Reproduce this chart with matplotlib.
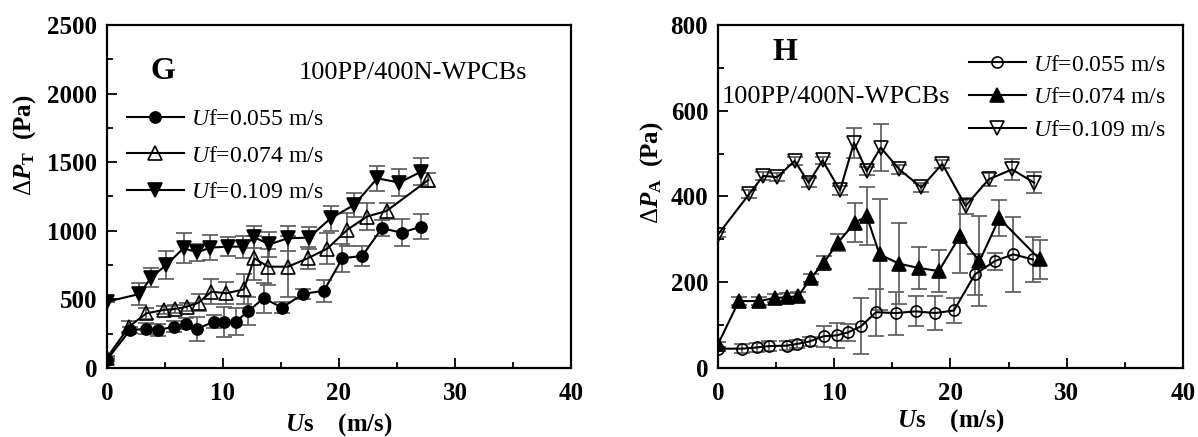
import matplotlib
matplotlib.use("Agg")
import matplotlib.pyplot as plt
from matplotlib.ticker import MultipleLocator

plt.rcParams['font.family'] = ['Liberation Serif', 'DejaVu Serif']
plt.rcParams['mathtext.fontset'] = 'custom'
plt.rcParams['mathtext.rm'] = 'Liberation Serif'
plt.rcParams['mathtext.it'] = 'Liberation Serif:italic'
plt.rcParams['mathtext.bf'] = 'Liberation Serif:bold'
plt.rcParams['mathtext.bfit'] = 'Liberation Serif:italic:bold'

# ---- panel G : total pressure drop ----
us_g1 = [0, 2.0, 3.4, 4.4, 5.8, 6.8, 7.8, 9.2, 10.1, 11.1, 12.2, 13.5, 15.1, 16.9, 18.7, 20.3, 22.0, 23.7, 25.4, 27.1]
p_g1 = [60, 277, 284, 277, 301, 321, 284, 338, 333, 338, 415, 508, 440, 539, 563, 800, 816, 1018, 986, 1030]
e_g1 = [10, 20, 40, 45, 40, 40, 90, 50, 110, 100, 100, 110, 40, 40, 80, 100, 70, 60, 100, 90]

us_g2 = [0, 1.9, 3.4, 4.9, 5.9, 6.9, 7.9, 9.0, 10.3, 11.8, 12.7, 13.9, 15.6, 17.3, 19.0, 20.7, 22.4, 24.1, 27.7]
p_g2 = [75, 301, 398, 423, 430, 447, 476, 556, 544, 573, 799, 738, 738, 799, 870, 1006, 1103, 1144, 1370]
e_g2 = [10, 40, 40, 30, 30, 30, 60, 90, 80, 110, 160, 130, 220, 80, 110, 120, 100, 60, 50]

us_g3 = [0, 2.8, 3.8, 5.1, 6.6, 7.8, 8.9, 10.4, 11.7, 12.7, 14.0, 15.6, 17.4, 19.3, 21.3, 23.3, 25.2, 27.1]
p_g3 = [483, 539, 658, 751, 872, 843, 877, 884, 884, 952, 901, 945, 950, 1091, 1188, 1382, 1351, 1431]
e_g3 = [0, 80, 70, 100, 110, 60, 90, 70, 80, 80, 90, 90, 80, 90, 90, 90, 100, 100]

# ---- panel H : pressure drop in section A ----
us_h1 = [0, 2.1, 3.4, 4.4, 5.9, 6.8, 7.9, 9.1, 10.2, 11.2, 12.3, 13.6, 15.3, 17.0, 18.7, 20.3, 22.1, 23.8, 25.4, 27.1]
p_h1 = [45, 45, 48, 51, 52, 56, 62, 74, 76, 83, 97, 130, 128, 132, 128, 134, 218, 249, 265, 253]
e_h1 = [5, 10, 10, 12, 10, 10, 10, 25, 30, 20, 65, 55, 50, 35, 40, 30, 47, 20, 87, 52]

us_h2 = [0, 1.8, 3.5, 4.9, 5.9, 6.9, 8.0, 9.1, 10.3, 11.8, 12.8, 13.9, 15.6, 17.3, 19.0, 20.8, 22.5, 24.2, 27.7]
p_h2 = [55, 156, 156, 163, 165, 167, 210, 245, 292, 339, 354, 265, 243, 233, 226, 307, 249, 349, 253]
e_h2 = [5, 10, 10, 10, 10, 10, 10, 15, 20, 45, 68, 130, 95, 50, 50, 85, 105, 42, 45]

us_h3 = [0, 2.7, 3.9, 5.1, 6.6, 7.8, 9.0, 10.5, 11.7, 12.8, 14.0, 15.6, 17.5, 19.3, 21.3, 23.3, 25.3, 27.2]
p_h3 = [311, 406, 448, 445, 483, 432, 484, 414, 525, 459, 514, 463, 421, 476, 378, 440, 463, 432]
e_h3 = [5, 10, 10, 10, 10, 10, 8, 10, 35, 10, 55, 10, 10, 10, 18, 15, 25, 25]

labels = [r'$U$f=0.055 m/s', r'$U$f=0.074 m/s', r'$U$f=0.109 m/s']
material = '100PP/400N-WPCBs'


def draw_series(ax, x, y, e, marker, filled, ms, label):
    ax.errorbar(x, y, yerr=e, fmt='none', ecolor='0.35', elinewidth=1.2,
                capsize=6, capthick=1.2, zorder=1)
    ax.plot(x, y, color='black', lw=1.5, marker=marker, ms=ms,
            mfc='black' if filled else 'none', mec='black', mew=1.2,
            label=label, zorder=3)


def style_axes(ax, ymax, ymajor, yminor):
    ax.set_xlim(0, 40)
    ax.set_ylim(0, ymax)
    ax.xaxis.set_major_locator(MultipleLocator(10))
    ax.xaxis.set_minor_locator(MultipleLocator(5))
    ax.yaxis.set_major_locator(MultipleLocator(ymajor))
    ax.yaxis.set_minor_locator(MultipleLocator(yminor))
    ax.tick_params(which='both', direction='in', width=1.3)
    ax.tick_params(which='major', length=7, labelsize=18)
    ax.tick_params(axis='x', which='major', pad=10)
    ax.tick_params(axis='y', which='major', pad=7)
    ax.tick_params(which='minor', length=4)
    for lab in ax.get_xticklabels() + ax.get_yticklabels():
        lab.set_fontweight('bold')
    for sp in ax.spines.values():
        sp.set_linewidth(1.6)


fig = plt.figure(figsize=(11.98, 4.37), dpi=100)
axG = fig.add_axes([0.0893, 0.158, 0.3873, 0.785])
axH = fig.add_axes([0.5993, 0.158, 0.3881, 0.785])

draw_series(axG, us_g1, p_g1, e_g1, 'o', True, 8, labels[0])
draw_series(axG, us_g2, p_g2, e_g2, '^', False, 10, labels[1])
draw_series(axG, us_g3, p_g3, e_g3, 'v', True, 10, labels[2])
style_axes(axG, 2500, 500, 250)

draw_series(axH, us_h1, p_h1, e_h1, 'o', False, 8, labels[0])
draw_series(axH, us_h2, p_h2, e_h2, '^', True, 10, labels[1])
draw_series(axH, us_h3, p_h3, e_h3, 'v', False, 10, labels[2])
style_axes(axH, 800, 200, 100)

axG.set_xlabel(r'$\mathbfit{U}$s    (m/s)', fontsize=18, fontweight='bold')
axG.xaxis.set_label_coords(0.5, -0.125)
axG.set_ylabel(r'$\Delta\mathbfit{P}_{\mathbf{T}}$  (Pa)', fontsize=18, fontweight='bold')
axG.yaxis.set_label_coords(-0.148, 0.65)

axH.set_xlabel(r'$\mathbfit{U}$s    (m/s)', fontsize=18, fontweight='bold')
axH.xaxis.set_label_coords(0.5, -0.115)
axH.set_ylabel(r'$\Delta\mathbfit{P}_{\mathbf{A}}$  (Pa)', fontsize=18, fontweight='bold')
axH.yaxis.set_label_coords(-0.113, 0.57)

axG.text(0.121, 0.863, 'G', transform=axG.transAxes, fontsize=23,
         fontweight='bold', ha='center', va='center')
axG.text(0.414, 0.86, material, transform=axG.transAxes, fontsize=19,
         ha='left', va='center')
axH.text(0.144, 0.921, 'H', transform=axH.transAxes, fontsize=23,
         fontweight='bold', ha='center', va='center')
axH.text(0.009, 0.79, material, transform=axH.transAxes, fontsize=19,
         ha='left', va='center')

axG.legend(loc='upper left', bbox_to_anchor=(0.043, 0.755), frameon=False,
           fontsize=17, handlelength=2.4, handletextpad=0.3, labelspacing=0.62,
           borderpad=0, borderaxespad=0, numpoints=1)
axH.legend(loc='upper left', bbox_to_anchor=(0.54, 0.915), frameon=False,
           fontsize=17, handlelength=2.4, handletextpad=0.3, labelspacing=0.47,
           borderpad=0, borderaxespad=0, numpoints=1)

fig.savefig('out.png', dpi=100)
